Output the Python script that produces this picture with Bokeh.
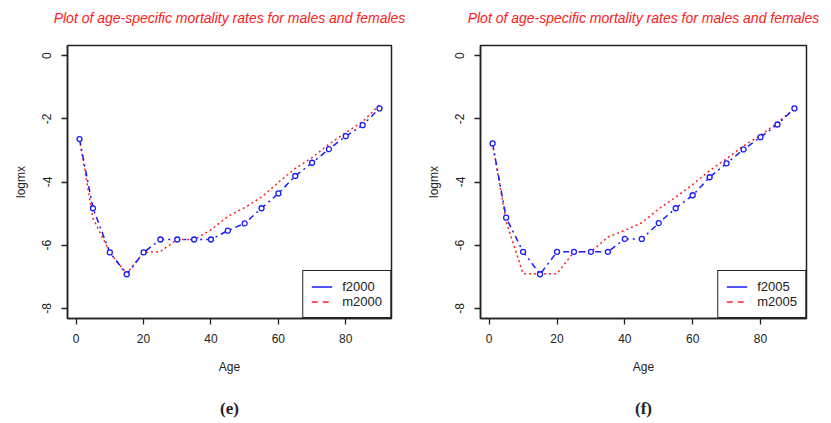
from bokeh.plotting import figure
from bokeh.layouts import row
from bokeh.models import (Range1d, FixedTicker, Legend, LegendItem, LinearAxis,
                          ColumnDataSource)
from bokeh.embed import file_html
from bokeh.resources import INLINE

ages = [1, 5, 10, 15, 20, 25, 30, 35, 40, 45, 50, 55, 60, 65, 70, 75, 80, 85, 90]
f2000 = [-2.64, -4.83, -6.23, -6.92, -6.23, -5.82, -5.82, -5.82, -5.82, -5.54,
         -5.31, -4.83, -4.36, -3.81, -3.39, -2.96, -2.55, -2.20, -1.67]
m2000 = [-2.64, -5.15, -6.23, -6.90, -6.23, -6.20, -5.82, -5.82, -5.52, -5.09,
         -4.81, -4.48, -4.01, -3.57, -3.23, -2.80, -2.44, -2.09, -1.56]
f2005 = [-2.78, -5.13, -6.21, -6.92, -6.21, -6.21, -6.21, -6.21, -5.80, -5.80,
         -5.30, -4.83, -4.42, -3.85, -3.41, -2.97, -2.58, -2.18, -1.67]
m2005 = [-2.78, -5.25, -6.90, -6.90, -6.90, -6.21, -6.21, -5.74, -5.53, -5.29,
         -4.85, -4.48, -4.08, -3.64, -3.26, -2.86, -2.52, -2.12, -1.68]

x_ticks = [0, 20, 40, 60, 80]
y_ticks = [-8, -6, -4, -2, 0]
title_text = "Plot of age-specific mortality rates for males and females"
FONT = "Liberation Sans"
BLUE = "#1a1aff"
RED = "#ff2020"
INK = "#222222"


def text_axis(label, font, style, size, color, standoff):
    """An axis with no ticks, used only to carry a text label outside the frame."""
    ax = LinearAxis(ticker=FixedTicker(ticks=[]), axis_label=label)
    ax.axis_line_color = None
    ax.major_tick_line_color = None
    ax.minor_tick_line_color = None
    ax.major_tick_out = 0
    ax.major_label_standoff = 0
    ax.axis_label_standoff = standoff
    ax.axis_label_text_font = font
    ax.axis_label_text_font_style = style
    ax.axis_label_text_font_size = size
    ax.axis_label_text_color = color
    return ax


def make_panel(fvals, mvals, fname, mname, caption, width, border_left, border_right, border_top):
    p = figure(width=width, height=423, output_backend="svg", toolbar_location=None,
               x_range=Range1d(-2.56, 93.56), y_range=Range1d(-8.32, 0.32),
               min_border_left=border_left, min_border_right=border_right,
               min_border_top=border_top, min_border_bottom=105)
    p.background_fill_color = "white"
    p.border_fill_color = "white"
    p.outline_line_color = INK
    p.outline_line_width = 1.5
    p.xgrid.visible = False
    p.ygrid.visible = False
    p.extra_x_ranges = {"legend_only": Range1d(1000, 2000)}

    for ax, ticks in ((p.xaxis[0], x_ticks), (p.yaxis[0], y_ticks)):
        ax.ticker = FixedTicker(ticks=ticks)
        ax.major_label_overrides = {t: str(t) for t in ticks}
        ax.minor_tick_line_color = None
        ax.major_tick_in = 0
        ax.major_tick_out = 6
        ax.major_tick_line_color = INK
        ax.major_tick_line_width = 1.3
        ax.axis_line_color = INK
        ax.axis_line_width = 1.5
        ax.major_label_text_font = FONT
        ax.major_label_text_font_size = "12px"
        ax.major_label_text_color = INK
        ax.axis_label_text_font = FONT
        ax.axis_label_text_font_size = "12px"
        ax.axis_label_text_font_style = "normal"
        ax.axis_label_text_color = INK

    p.xaxis.axis_label = "Age"
    p.xaxis.major_label_standoff = 9
    p.xaxis.axis_label_standoff = 14
    p.yaxis.axis_label = "logmx"
    p.yaxis.major_label_orientation = "vertical"
    p.yaxis.major_label_standoff = 10
    p.yaxis.axis_label_standoff = 12

    # chart title above the frame, caption below the x axis
    p.add_layout(text_axis(title_text, FONT, "italic", "14px", RED, 20), "above")
    p.add_layout(text_axis(caption, "Liberation Serif", "bold", "17px", INK, 22), "below")

    src = ColumnDataSource(dict(age=ages, f=fvals, m=mvals))
    p.line("age", "m", source=src, line_color=RED, line_width=1.5, line_dash="2 3")
    p.line("age", "f", source=src, line_color=BLUE, line_width=1.5, line_dash="6 4 2 4")
    p.scatter("age", "f", source=src, marker="circle", size=5, line_color=BLUE,
              line_width=1.3, fill_color="white")

    lf = p.line("age", "f", source=src, x_range_name="legend_only",
                line_color=BLUE, line_width=1.5)
    lm = p.line("age", "m", source=src, x_range_name="legend_only",
                line_color=RED, line_width=1.5, line_dash="6 5")
    legend = Legend(items=[LegendItem(label=fname, renderers=[lf]),
                           LegendItem(label=mname, renderers=[lm])],
                    location="bottom_right", margin=0, padding=8, spacing=0,
                    label_height=13, glyph_height=13, glyph_width=21, label_standoff=10,
                    border_line_color=INK, border_line_width=1.5, border_line_alpha=1.0,
                    background_fill_color="white", background_fill_alpha=1.0,
                    label_text_font=FONT, label_text_font_size="13px",
                    label_text_color=INK)
    p.add_layout(legend, "center")
    return p


p1 = make_panel(f2000, m2000, "f2000", "m2000", "(e)", 415, 67, 24, 45)
p2 = make_panel(f2005, m2005, "f2005", "m2005", "(f)", 416, 65, 25, 44)
layout = row(p1, p2)

open("out.html", "w").write(file_html(layout, INLINE))
